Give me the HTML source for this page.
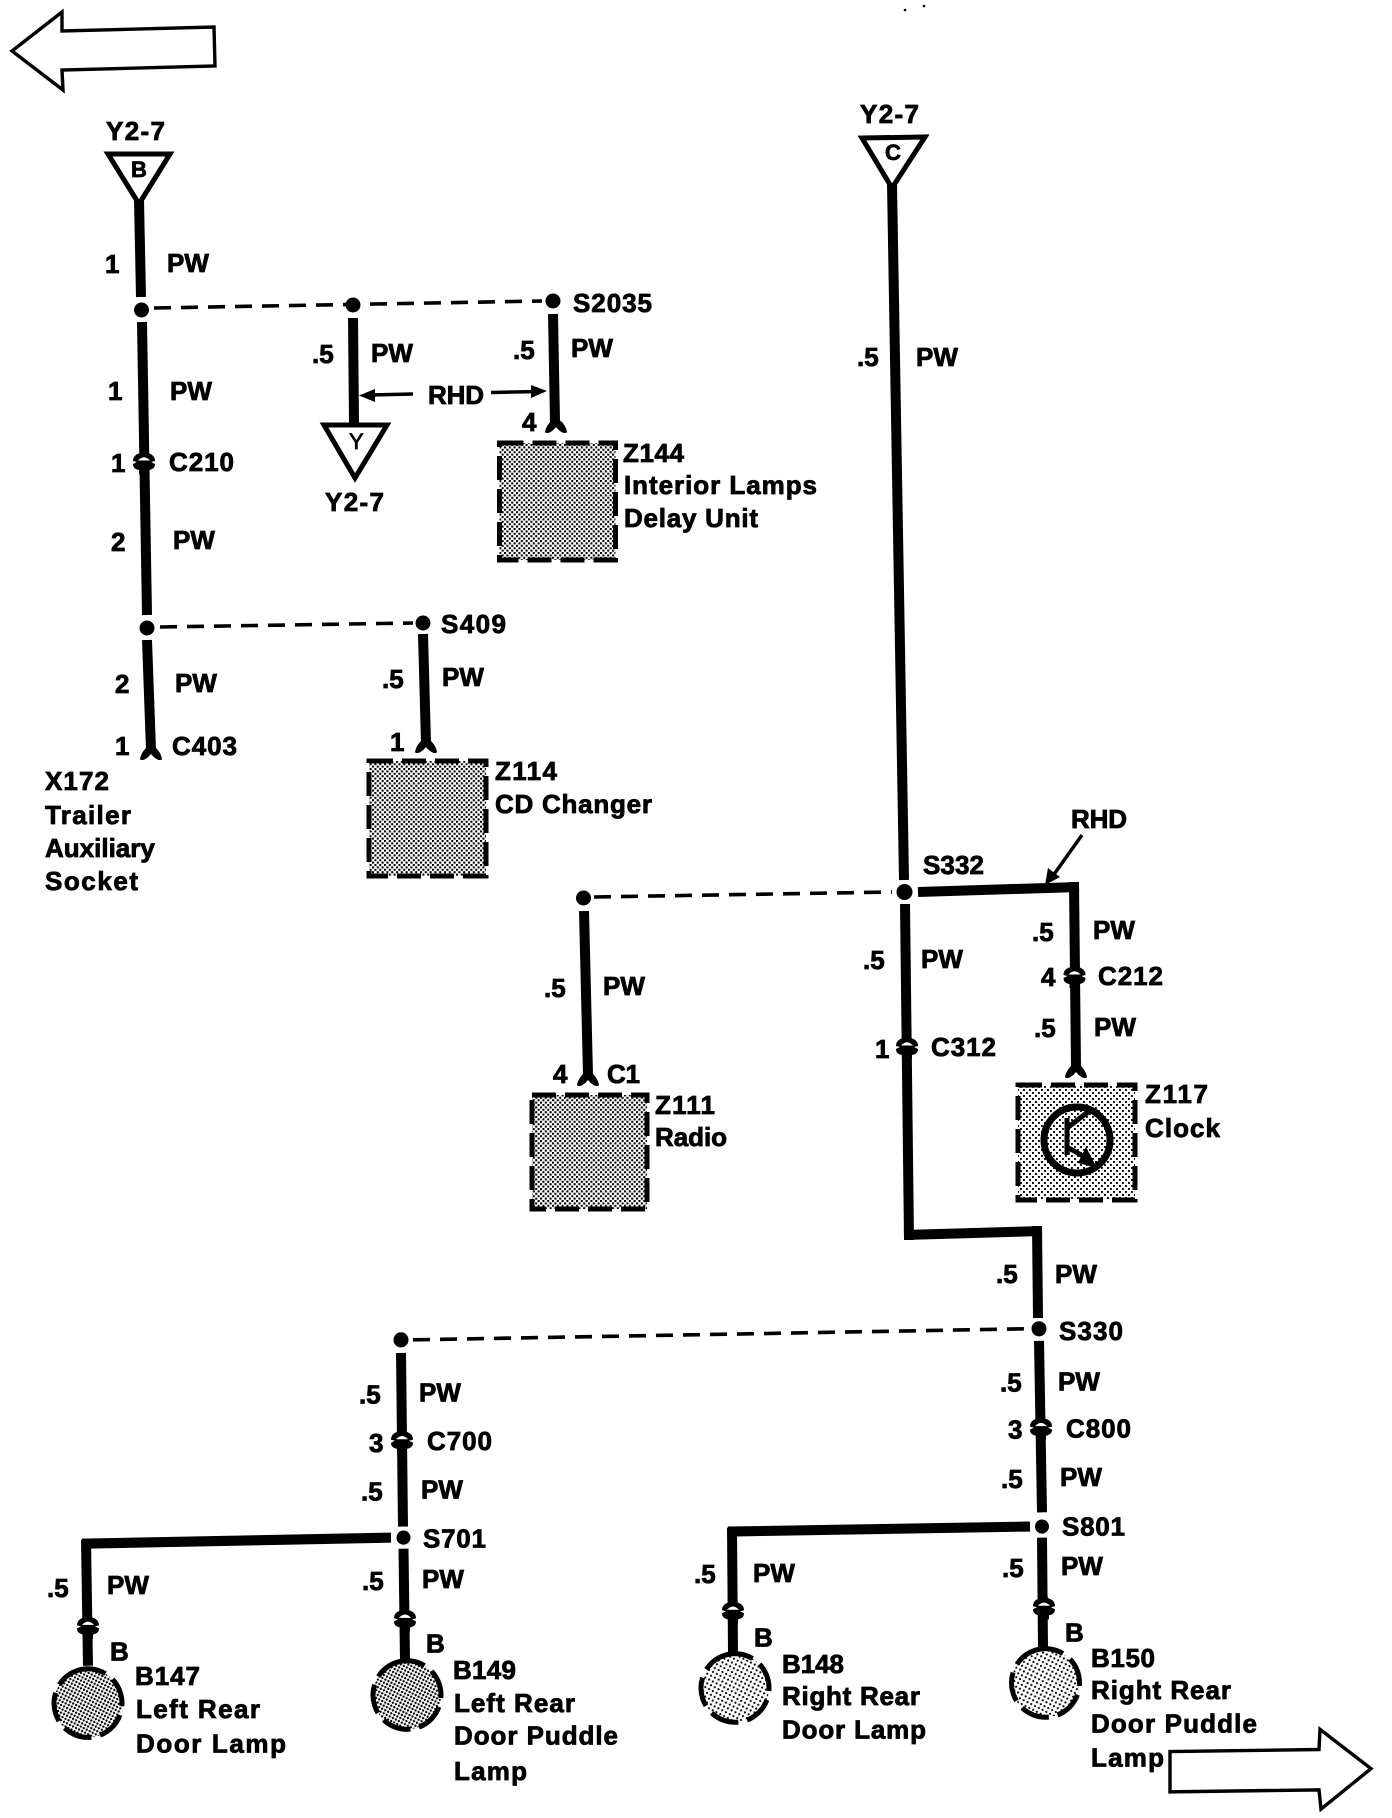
<!DOCTYPE html>
<html><head><meta charset="utf-8"><title>Wiring diagram</title>
<style>
html,body{margin:0;padding:0;background:#fff}
svg{display:block}
text{font-family:"Liberation Sans",Arial,sans-serif;font-weight:bold;font-size:26px;fill:#000;stroke:#000;stroke-width:.8px}
.w{fill:none;stroke:#000;stroke-width:10;stroke-linecap:butt;stroke-linejoin:miter}
.d{fill:none;stroke:#000;stroke-width:3.6;stroke-dasharray:17 10}
.t{fill:#fff;stroke:#000;stroke-width:5;stroke-linejoin:miter}
.b{stroke:#000;stroke-width:5;stroke-dasharray:24 9}
.l{stroke:#000;stroke-width:5;stroke-dasharray:29 9}
.a{fill:#fff;stroke:#000;stroke-width:3.4}
.n{fill:none;stroke:#000;stroke-width:3.5}
</style></head><body>
<svg width="1392" height="1818" viewBox="0 0 1392 1818" xmlns="http://www.w3.org/2000/svg">
<defs>
<pattern id="p" width="4.8" height="4.8" patternUnits="userSpaceOnUse"><rect width="4.8" height="4.8" fill="#fff"/><rect width="2.05" height="2.05"/><rect x="2.4" y="2.4" width="2.05" height="2.05"/></pattern>
<pattern id="q" width="6" height="6" patternUnits="userSpaceOnUse"><rect width="6" height="6" fill="#fff"/><rect width="1.9" height="1.9"/><rect x="3" y="3" width="1.9" height="1.9"/></pattern>
<g id="c"><path d="M-3,-13 L3,-13 L4,-9 Q11,-7 11,-1 L7,0 L11,2 Q11,7 5,8 L5,12 L-5,12 L-5,8 Q-11,7 -11,2 L-7,0 L-11,-1 Q-11,-7 -4,-9 Z"/><path d="M-6,-1.5 Q0,-8 6,-1.5 Z" fill="#fff"/></g>
<path id="f" d="M-11,6 Q-10,0 -5,-5 L5,-5 Q10,0 11,6 Q11,7 8,7 Q4,6 0,1 Q-4,6 -8,7 Q-11,7 -11,6 Z"/>
</defs>
<rect width="1392" height="1818" fill="#fff"/>

<!-- page arrow -->
<polygon class="a" points="12,51 62,12 62,31 214,27 215,66 62,70 63,90"/>
<circle cx="905" cy="10" r="1.3"/><circle cx="924" cy="6" r="1.3"/>

<!-- left branch -->
<polygon class="t" points="108,154 170,154 139,204"/>
<path class="w" d="M139,200 L141,297"/>
<circle cx="141.5" cy="310" r="7.5"/>
<path class="d" d="M154,308 L542,301"/>
<circle cx="353" cy="305" r="7.5"/><circle cx="553" cy="301" r="7.5"/>
<path class="w" d="M142,322 L147,615"/>
<use href="#c" x="144" y="462"/>
<circle cx="147" cy="628" r="7.5"/>
<path class="d" d="M160,627 L413,623"/>
<circle cx="423" cy="623" r="7.5"/>
<path class="w" d="M147,640 L151,750"/>
<use href="#f" x="151" y="753"/>
<path class="w" d="M423,634 L426,743"/>
<use href="#f" x="426" y="746"/>

<path class="w" d="M353,318 L354,423"/>
<polygon class="t" points="324,425 387,425 355,478"/>
<path class="w" d="M553,314 L555,422"/>
<use href="#f" x="556" y="426"/>
<path class="n" d="M413,394 L368,395"/><polygon points="359,395.5 375,389 375,402"/>
<path class="n" d="M491,392.5 L538,391.5"/><polygon points="547,391 531,385 531,398"/>

<rect class="b" x="499.5" y="443" width="116" height="117" fill="url(#p)"/>
<rect class="b" x="369" y="761" width="117" height="115" fill="url(#p)"/>
<rect class="b" x="532" y="1095" width="115" height="114" fill="url(#p)"/>

<!-- main trunk -->
<polygon class="t" points="862,138 925,137 892,188"/>
<path class="w" d="M892,184 L904,880"/>
<circle cx="904.5" cy="892" r="8"/>
<circle cx="583.5" cy="898" r="7.5"/>
<path class="d" d="M594,897 L892,892"/>
<path class="w" d="M584,911 L588,1075"/>
<use href="#f" x="588" y="1079"/>
<path class="w" d="M918,892 L1079,887"/>
<path class="w" d="M1074,882 L1076,1066"/>
<use href="#c" x="1074.5" y="976"/>
<use href="#f" x="1076" y="1071"/>
<path class="n" stroke-width="3" d="M1082,835 L1050,880"/><polygon points="1045,885 1048,868 1060,877"/>
<path class="w" d="M905,904 L909,1240"/>
<use href="#c" x="907" y="1047"/>
<path class="w" d="M904,1235 L1042,1231"/>
<path class="w" d="M1037,1226 L1038,1318"/>

<rect class="b" x="1018" y="1085" width="117" height="115" fill="url(#q)"/>
<circle cx="1077" cy="1140" r="33" fill="none" stroke="#000" stroke-width="7"/>
<path fill="none" stroke="#000" stroke-width="5" d="M1067,1118 L1067,1155 M1067,1128 L1088,1112 M1067,1147 L1090,1160"/>
<polygon points="1097,1168 1078,1163 1086,1147"/>

<!-- lower part of the sheet -->
<g transform="matrix(1,0,0,1.009,0,-12.2)">
<polygon class="a" points="1170,1748 1319,1746 1320,1726 1371,1765 1321,1805 1319,1786 1170,1788"/>
<circle cx="1039" cy="1329" r="7.5"/>
<circle cx="401" cy="1340" r="7.5"/>
<path class="d" d="M413,1340 L1027,1329"/>
<path class="w" d="M1039,1341 L1042,1511"/>
<use href="#c" x="1041" y="1427"/>
<circle cx="1042" cy="1525" r="7"/>
<path class="w" d="M1030,1525 L728,1530"/>
<path class="w" d="M732,1526 L733,1650"/>
<use href="#c" x="733" y="1609"/>
<path class="w" d="M1042,1536 L1043,1645"/>
<use href="#c" x="1044" y="1605"/>
<path class="w" d="M401,1353 L403,1525"/>
<use href="#c" x="402" y="1440"/>
<circle cx="403.5" cy="1536" r="7"/>
<path class="w" d="M391,1536 L82,1542"/>
<path class="w" d="M86,1538 L88,1663"/>
<use href="#c" x="88" y="1624"/>
<path class="w" d="M403.5,1547 L405,1658"/>
<use href="#c" x="405" y="1617"/>

<circle class="l" cx="88" cy="1700" r="34" fill="url(#p)" transform="rotate(-108 88 1700)"/>
<circle class="l" cx="407" cy="1692" r="34" fill="url(#p)" transform="rotate(-108 407 1692)"/>
<circle class="l" cx="735" cy="1685" r="34" fill="url(#q)" transform="rotate(-108 735 1685)"/>
<circle class="l" cx="1045.5" cy="1680" r="34" fill="url(#q)" transform="rotate(-108 1045.5 1680)"/>

<text x="1059" y="1340" textLength="64">S330</text>
<text x="1000" y="1391">.5</text><text x="1058" y="1390">PW</text>
<text x="1008" y="1438">3</text><text x="1066" y="1437" textLength="65">C800</text>
<text x="1001" y="1487">.5</text><text x="1060" y="1485">PW</text>
<text x="1062" y="1534" textLength="63">S801</text>
<text x="694" y="1581">.5</text><text x="753" y="1580">PW</text>
<text x="1002" y="1575">.5</text><text x="1061" y="1573">PW</text>
<text x="754" y="1644">B</text>
<text x="1065" y="1639">B</text>
<text x="782" y="1670" textLength="62">B148</text>
<text x="782" y="1702" textLength="138">Right Rear</text>
<text x="782" y="1735" textLength="144">Door Lamp</text>
<text x="1091" y="1664" textLength="64">B150</text>
<text x="1091" y="1696" textLength="140">Right Rear</text>
<text x="1091" y="1729" textLength="166">Door Puddle</text>
<text x="1091" y="1763" textLength="73">Lamp</text>

<text x="359" y="1403">.5</text><text x="419" y="1401">PW</text>
<text x="369" y="1451">3</text><text x="427" y="1449" textLength="65">C700</text>
<text x="361" y="1499">.5</text><text x="421" y="1497">PW</text>
<text x="423" y="1546" textLength="63">S701</text>
<text x="47" y="1595">.5</text><text x="107" y="1592">PW</text>
<text x="362" y="1588">.5</text><text x="422" y="1586">PW</text>
<text x="110" y="1658">B</text>
<text x="426" y="1650">B</text>
<text x="135" y="1682" textLength="65">B147</text>
<text x="136" y="1715" textLength="124">Left Rear</text>
<text x="136" y="1749" textLength="150">Door Lamp</text>
<text x="453" y="1676" textLength="63">B149</text>
<text x="454" y="1709" textLength="121">Left Rear</text>
<text x="454" y="1741" textLength="164">Door Puddle</text>
<text x="454" y="1776" textLength="73">Lamp</text>
</g>

<!-- labels: left -->
<text x="106" y="140" textLength="59">Y2-7</text>
<text x="131" y="177" style="font-size:22px">B</text>
<text x="349" y="449" style="font-size:22px;font-weight:normal">Y</text>
<text x="885" y="160" style="font-size:22px">C</text>
<text x="105" y="273">1</text><text x="167" y="272">PW</text>
<text x="573" y="312" textLength="79">S2035</text>
<text x="312" y="363">.5</text><text x="371" y="362">PW</text>
<text x="513" y="359">.5</text><text x="571" y="357">PW</text>
<text x="108" y="400">1</text><text x="170" y="400">PW</text>
<text x="111" y="472">1</text><text x="169" y="471" textLength="65">C210</text>
<text x="111" y="551">2</text><text x="173" y="549">PW</text>
<text x="428" y="404" textLength="56">RHD</text>
<text x="325" y="511" textLength="59">Y2-7</text>
<text x="522" y="431">4</text>
<text x="623" y="462" textLength="61">Z144</text>
<text x="624" y="494" textLength="193">Interior Lamps</text>
<text x="624" y="527" textLength="134">Delay Unit</text>
<text x="441" y="633" textLength="65">S409</text>
<text x="382" y="688">.5</text><text x="442" y="686">PW</text>
<text x="115" y="693">2</text><text x="175" y="692">PW</text>
<text x="115" y="755">1</text><text x="172" y="755" textLength="65">C403</text>
<text x="390" y="751">1</text>
<text x="45" y="790" textLength="64">X172</text>
<text x="45" y="824" textLength="86">Trailer</text>
<text x="45" y="857">Auxiliary</text>
<text x="45" y="890" textLength="93">Socket</text>
<text x="495" y="780" textLength="62">Z114</text>
<text x="495" y="813" textLength="157">CD Changer</text>

<!-- labels: center -->
<text x="544" y="997">.5</text><text x="603" y="995">PW</text>
<text x="553" y="1083">4</text><text x="607" y="1083" textLength="33">C1</text>
<text x="655" y="1114" textLength="60">Z111</text>
<text x="655" y="1146" textLength="72">Radio</text>

<!-- labels: trunk -->
<text x="860" y="123" textLength="59">Y2-7</text>
<text x="857" y="366">.5</text><text x="916" y="366">PW</text>
<text x="923" y="874" textLength="61">S332</text>
<text x="1071" y="828" textLength="56">RHD</text>
<text x="1032" y="941">.5</text><text x="1093" y="939">PW</text>
<text x="1041" y="986">4</text><text x="1098" y="985" textLength="65">C212</text>
<text x="1034" y="1037">.5</text><text x="1094" y="1036">PW</text>
<text x="863" y="969">.5</text><text x="921" y="968">PW</text>
<text x="875" y="1058">1</text><text x="931" y="1056" textLength="65">C312</text>
<text x="1145" y="1103" textLength="63">Z117</text>
<text x="1145" y="1137" textLength="75">Clock</text>
<text x="996" y="1283">.5</text><text x="1055" y="1283">PW</text>
</svg>
</body></html>
